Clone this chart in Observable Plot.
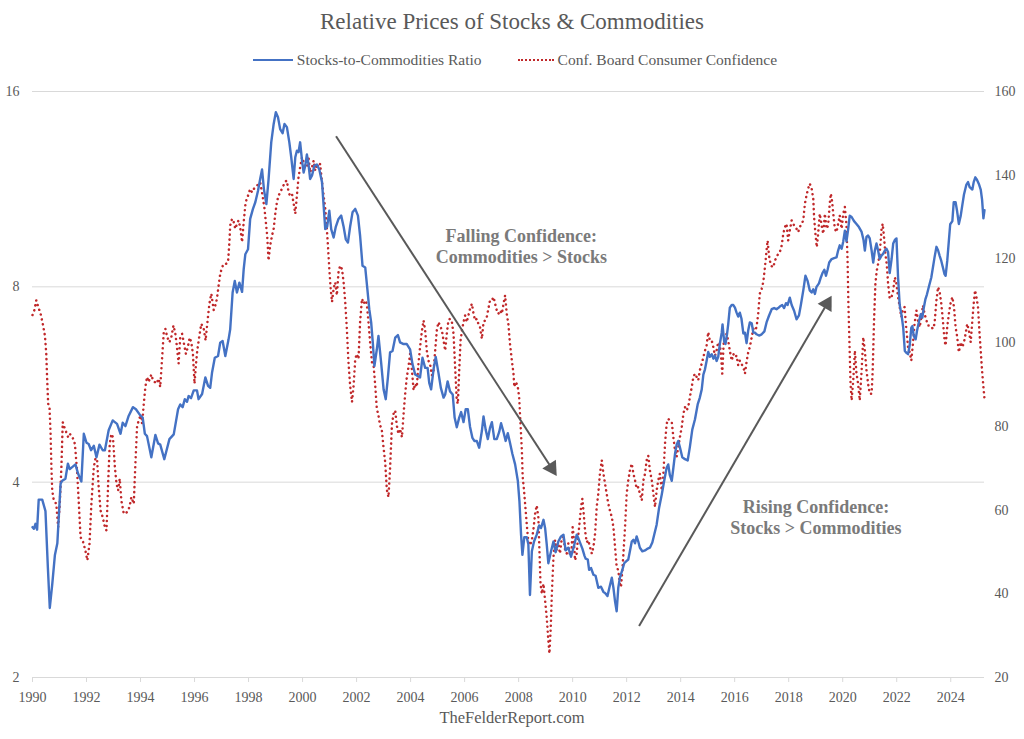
<!DOCTYPE html>
<html>
<head>
<meta charset="utf-8">
<script src="https://cdn.jsdelivr.net/npm/d3@7"></script>
<script src="https://cdn.jsdelivr.net/npm/@observablehq/plot@0.6"></script>
<style>
  html, body { margin: 0; padding: 0; background: #ffffff; }
  body { width: 1024px; font-family: "Liberation Serif", "DejaVu Serif", serif; color: #595959; }
  #title { height: 44px; line-height: 44px; text-align: center; font-size: 23px; }
  #legend { height: 32px; display: flex; justify-content: center; align-items: center; font-size: 15.5px; padding-left: 6px; }
  .item { display: flex; align-items: center; }
  .sw { width: 40px; height: 0; margin-right: 4px; }
  #footer { height: 20px; line-height: 16px; text-align: center; font-size: 16.5px; }
</style>
</head>
<body>
<div id="title">Relative Prices of Stocks &amp; Commodities</div>
<div id="legend">
  <div class="item"><div class="sw" style="border-top:2.5px solid #4472C4"></div><span>Stocks-to-Commodities Ratio</span></div>
  <div class="item" style="margin-left:36px"><div class="sw" style="width:36px;border-top:2.5px dotted #C0282A"></div><span>Conf. Board Consumer Confidence</span></div>
</div>
<div id="chart"></div>
<div id="footer">TheFelderReport.com</div>
<script>
// ---------------- data ----------------
const ratioSeries = [
[1990.00,3.41],[1990.05,3.39],[1990.11,3.45],[1990.17,3.38],[1990.23,3.76],[1990.36,3.76],[1990.48,3.61],[1990.57,2.95],[1990.64,2.56],[1990.73,2.78],[1990.83,3.09],[1990.92,3.22],
[1991.04,3.98],[1991.10,4.02],[1991.22,4.05],[1991.31,4.27],[1991.38,4.19],[1991.47,4.22],[1991.59,4.26],[1991.69,4.12],[1991.81,4.01],[1991.90,4.75],
[1992.00,4.60],[1992.08,4.58],[1992.17,4.48],[1992.27,4.55],[1992.37,4.37],[1992.48,4.57],[1992.60,4.48],[1992.68,4.48],[1992.82,4.81],[1992.97,4.98],
[1993.13,4.92],[1993.26,4.75],[1993.34,4.94],[1993.44,4.88],[1993.56,5.06],[1993.72,5.22],[1993.83,5.18],[1993.99,5.07],
[1994.08,5.03],[1994.16,4.75],[1994.24,4.71],[1994.40,4.37],[1994.55,4.73],[1994.65,4.59],[1994.73,4.57],[1994.88,4.34],
[1995.07,4.66],[1995.23,4.74],[1995.39,5.18],[1995.47,5.27],[1995.56,5.22],[1995.64,5.37],[1995.72,5.32],[1995.78,5.43],[1995.87,5.39],[1995.97,5.54],
[1996.09,5.54],[1996.15,5.37],[1996.28,5.47],[1996.40,5.80],[1996.50,5.63],[1996.58,5.59],[1996.65,5.91],[1996.75,6.22],[1996.87,6.26],[1996.95,6.56],
[1997.04,6.60],[1997.14,6.26],[1997.26,6.64],[1997.32,6.88],[1997.41,7.84],[1997.49,8.17],[1997.57,7.84],[1997.66,8.12],[1997.76,7.86],[1997.82,8.52],[1997.88,8.98],[1997.98,9.14],
[1998.06,10.18],[1998.16,10.54],[1998.25,10.8],[1998.35,11.25],[1998.43,11.73],[1998.50,12.13],[1998.57,11.3],[1998.66,10.73],[1998.74,11.7],[1998.84,13.36],[1998.93,14.26],
[1999.01,14.87],[1999.09,14.6],[1999.17,14.0],[1999.26,13.8],[1999.33,14.26],[1999.42,14.1],[1999.51,13.36],[1999.58,12.67],[1999.67,11.73],[1999.73,12.67],[1999.79,12.97],[1999.85,12.9],[1999.91,13.36],[1999.98,12.52],
[2000.04,12.0],[2000.10,12.3],[2000.16,12.8],[2000.22,12.35],[2000.28,11.73],[2000.35,11.88],[2000.44,12.3],[2000.53,12.35],[2000.62,12.13],[2000.72,11.6],[2000.78,10.67],[2000.84,9.82],[2000.91,9.9],[2000.99,10.48],
[2001.06,9.82],[2001.15,9.53],[2001.23,9.9],[2001.33,10.18],[2001.43,10.3],[2001.52,9.9],[2001.60,9.47],[2001.68,9.36],[2001.76,9.9],[2001.85,10.42],[2001.95,10.55],
[2002.05,10.3],[2002.13,9.59],[2002.22,8.62],[2002.32,8.57],[2002.40,7.93],[2002.47,7.39],[2002.54,7.05],[2002.60,6.57],[2002.66,6.04],[2002.75,6.41],[2002.81,6.72],[2002.91,6.11],
[2003.00,5.56],[2003.08,5.37],[2003.16,5.80],[2003.24,6.34],[2003.33,6.37],[2003.43,6.68],[2003.53,6.74],[2003.61,6.57],[2003.74,6.53],[2003.86,6.53],[2003.98,6.41],
[2004.07,6.08],[2004.17,5.86],[2004.26,5.83],[2004.35,5.80],[2004.44,6.22],[2004.54,6.0],[2004.63,6.0],[2004.69,5.69],[2004.76,5.56],[2004.85,5.97],[2004.93,6.24],
[2005.03,5.9],[2005.12,5.59],[2005.22,5.40],[2005.28,5.46],[2005.37,5.72],[2005.46,5.52],[2005.56,5.46],[2005.63,5.03],[2005.71,4.86],[2005.80,5.03],[2005.87,5.13],[2005.96,4.95],
[2006.04,5.18],[2006.12,5.18],[2006.20,4.87],[2006.29,4.68],[2006.36,4.63],[2006.45,4.63],[2006.54,4.52],[2006.64,4.8],[2006.70,5.05],[2006.78,4.82],[2006.86,4.66],[2006.94,4.85],
[2007.01,4.95],[2007.10,4.66],[2007.19,4.66],[2007.28,4.78],[2007.35,4.93],[2007.44,4.78],[2007.52,4.63],[2007.60,4.76],[2007.68,4.6],[2007.77,4.42],[2007.87,4.26],[2007.97,4.02],
[2008.03,3.74],[2008.09,3.32],[2008.14,3.09],[2008.21,3.29],[2008.30,3.29],[2008.36,3.21],[2008.42,2.68],[2008.49,3.13],[2008.57,3.24],[2008.67,3.32],[2008.76,3.43],[2008.83,3.40],[2008.92,3.50],[2008.98,3.40],
[2009.04,3.21],[2009.10,3.00],[2009.20,3.13],[2009.29,3.24],[2009.37,3.12],[2009.47,3.24],[2009.57,3.30],[2009.66,3.32],[2009.74,3.14],[2009.84,3.17],[2009.94,3.07],
[2010.05,3.19],[2010.15,3.32],[2010.21,3.28],[2010.27,3.23],[2010.36,3.16],[2010.44,3.08],[2010.48,3.05],[2010.56,3.04],[2010.61,2.93],[2010.68,2.95],[2010.77,2.88],[2010.85,2.87],[2010.95,2.75],
[2011.05,2.76],[2011.14,2.71],[2011.20,2.70],[2011.29,2.67],[2011.36,2.75],[2011.45,2.85],[2011.51,2.75],[2011.57,2.62],[2011.63,2.53],[2011.69,2.75],[2011.75,2.85],[2011.84,2.93],[2011.91,3.0],[2011.98,3.02],
[2012.06,3.04],[2012.12,3.13],[2012.19,3.24],[2012.25,3.26],[2012.31,3.22],[2012.37,3.30],[2012.43,3.24],[2012.49,3.17],[2012.58,3.13],[2012.68,3.14],[2012.78,3.16],[2012.86,3.17],[2012.95,3.23],
[2013.02,3.32],[2013.11,3.44],[2013.20,3.65],[2013.30,3.83],[2013.39,4.02],[2013.48,4.21],[2013.54,4.26],[2013.60,4.1],[2013.67,4.02],[2013.73,4.21],[2013.79,4.42],[2013.85,4.57],[2013.91,4.63],[2013.97,4.53],
[2014.06,4.37],[2014.16,4.34],[2014.26,4.32],[2014.34,4.53],[2014.43,4.82],[2014.53,5.0],[2014.63,5.27],[2014.71,5.4],[2014.78,5.56],[2014.84,5.86],[2014.90,5.97],[2014.96,6.15],
[2015.02,6.35],[2015.08,6.24],[2015.15,6.3],[2015.21,6.2],[2015.27,6.27],[2015.33,6.15],[2015.39,6.24],[2015.45,6.53],[2015.52,6.80],[2015.55,7.0],[2015.61,6.59],[2015.66,6.53],[2015.72,6.78],[2015.76,7.0],[2015.82,7.43],[2015.89,7.5],[2015.95,7.5],
[2016.01,7.43],[2016.07,7.3],[2016.13,7.2],[2016.19,7.3],[2016.25,7.15],[2016.32,6.78],[2016.38,6.8],[2016.44,6.55],[2016.50,6.85],[2016.56,7.05],[2016.63,7.03],[2016.69,6.8],[2016.75,6.8],[2016.81,6.76],[2016.90,6.73],
[2017.00,6.76],[2017.10,6.83],[2017.18,7.05],[2017.27,7.22],[2017.37,7.39],[2017.46,7.42],[2017.55,7.39],[2017.61,7.42],[2017.67,7.46],[2017.76,7.5],[2017.83,7.42],[2017.90,7.55],[2017.96,7.5],
[2018.04,7.7],[2018.11,7.5],[2018.20,7.35],[2018.29,7.13],[2018.38,7.23],[2018.45,7.5],[2018.54,7.9],[2018.62,8.32],[2018.70,8.17],[2018.78,7.9],[2018.85,7.84],[2018.91,7.93],[2018.97,7.8],
[2019.03,8.0],[2019.12,8.1],[2019.19,8.27],[2019.25,8.4],[2019.32,8.5],[2019.38,8.32],[2019.44,8.5],[2019.50,8.72],[2019.59,8.83],[2019.68,8.86],[2019.77,8.88],[2019.83,9.1],[2019.89,9.27],[2019.96,9.16],
[2020.02,9.4],[2020.08,9.76],[2020.14,9.4],[2020.20,9.8],[2020.26,10.3],[2020.33,10.25],[2020.42,10.1],[2020.51,10.0],[2020.60,9.89],[2020.70,9.72],[2020.77,9.45],[2020.82,9.1],[2020.88,9.55],[2020.94,9.6],
[2021.00,9.5],[2021.07,9.1],[2021.13,8.72],[2021.19,9.1],[2021.25,9.33],[2021.31,9.1],[2021.37,8.83],[2021.44,8.94],[2021.50,9.0],[2021.56,9.1],[2021.62,9.16],[2021.68,9.05],[2021.74,8.4],[2021.81,8.83],[2021.87,9.33],[2021.93,9.45],[2021.99,9.5],
[2022.05,8.27],[2022.11,7.5],[2022.18,7.23],[2022.24,6.92],[2022.30,6.37],[2022.36,6.33],[2022.42,6.3],[2022.48,6.5],[2022.54,6.92],[2022.58,6.96],[2022.63,6.72],[2022.70,6.64],[2022.75,6.84],[2022.83,7.09],[2022.89,7.26],[2022.95,7.17],
[2023.00,7.42],[2023.06,7.65],[2023.12,7.79],[2023.20,8.03],[2023.28,8.27],[2023.34,8.57],[2023.40,8.88],[2023.47,9.22],[2023.53,9.11],[2023.59,8.93],[2023.65,8.77],[2023.71,8.57],[2023.77,8.37],[2023.81,8.32],[2023.87,8.77],[2023.93,9.42],[2023.98,9.99],
[2024.06,10.1],[2024.11,10.8],[2024.18,10.8],[2024.23,10.5],[2024.30,10.0],[2024.37,10.3],[2024.43,10.7],[2024.49,11.1],[2024.58,11.5],[2024.64,11.6],[2024.70,11.4],[2024.80,11.3],[2024.85,11.6],[2024.91,11.8],[2024.97,11.7],
[2025.05,11.5],[2025.11,11.3],[2025.16,10.9],[2025.21,10.2],[2025.25,10.5]
];

const confSeries = [
[1990.00,106.6],[1990.07,107.8],[1990.14,110.1],[1990.21,108.6],[1990.30,106.9],[1990.38,104.5],[1990.46,101.7],[1990.51,97.3],[1990.54,91.8],[1990.58,85.4],[1990.63,84.6],[1990.67,78.2],[1990.70,70.3],[1990.73,64.7],[1990.79,62.3],[1990.88,61.5],[1990.95,55.9],
[1991.01,61.5],[1991.07,70.3],[1991.12,81.0],[1991.18,79.8],[1991.25,78.6],[1991.32,77.4],[1991.38,78.2],[1991.47,77.6],[1991.57,75.8],[1991.65,69.5],[1991.71,62.3],[1991.78,53.5],[1991.86,52.7],[1991.96,50.3],
[1992.03,48.0],[1992.11,51.9],[1992.18,61.5],[1992.27,70.3],[1992.33,72.3],[1992.39,72.3],[1992.45,65.5],[1992.52,59.9],[1992.60,58.3],[1992.68,55.9],[1992.74,55.1],[1992.80,66.3],[1992.86,75.8],[1992.92,78.2],[1992.98,77.4],
[1993.05,70.3],[1993.11,66.3],[1993.17,64.7],[1993.23,67.5],[1993.29,62.3],[1993.38,59.1],[1993.50,59.5],[1993.59,60.7],[1993.66,63.1],[1993.75,61.5],[1993.81,71.1],[1993.87,79.8],[1993.93,81.4],
[1994.00,82.6],[1994.06,80.6],[1994.12,85.4],[1994.18,89.4],[1994.24,91.8],[1994.30,90.6],[1994.40,92.4],[1994.46,91.0],[1994.59,90.2],[1994.67,91.4],[1994.73,89.4],[1994.80,96.5],[1994.86,102.5],[1994.92,103.3],[1994.99,101.3],
[1995.07,100.1],[1995.14,101.3],[1995.22,104.1],[1995.29,102.1],[1995.35,98.9],[1995.41,95.0],[1995.47,101.3],[1995.54,102.1],[1995.61,99.7],[1995.68,97.3],[1995.75,98.9],[1995.82,101.2],[1995.88,100.1],[1995.94,97.3],
[1996.00,90.2],[1996.05,94.6],[1996.10,98.1],[1996.18,101.7],[1996.25,104.5],[1996.34,103.3],[1996.41,100.5],[1996.47,104.5],[1996.55,109.3],[1996.62,111.7],[1996.71,107.8],[1996.77,108.9],[1996.83,110.5],[1996.89,113.6],[1996.95,116.4],
[1997.02,118.0],[1997.08,118.8],[1997.16,118.8],[1997.24,119.2],[1997.29,124.0],[1997.32,128.0],[1997.39,129.6],[1997.45,128.8],[1997.51,127.2],[1997.57,128.4],[1997.63,129.2],[1997.69,127.6],[1997.76,124.0],[1997.82,128.8],[1997.88,132.8],[1997.94,134.7],[1997.98,135.1],
[1998.06,136.7],[1998.13,135.9],[1998.19,136.7],[1998.25,137.1],[1998.37,137.9],[1998.43,138.3],[1998.52,135.1],[1998.59,132.0],[1998.64,128.8],[1998.69,125.6],[1998.74,119.6],[1998.80,123.2],[1998.87,125.6],[1998.93,127.2],[1998.99,130.8],
[1999.05,133.6],[1999.11,135.1],[1999.17,135.9],[1999.26,137.1],[1999.36,138.5],[1999.42,138.7],[1999.48,135.9],[1999.54,135.1],[1999.61,135.5],[1999.67,133.2],[1999.73,130.8],[1999.79,135.1],[1999.85,139.5],[1999.91,141.9],[1999.98,144.3],
[2000.04,143.1],[2000.10,141.9],[2000.16,141.9],[2000.22,144.3],[2000.28,140.7],[2000.35,141.9],[2000.41,143.5],[2000.47,141.1],[2000.53,142.7],[2000.59,141.9],[2000.65,142.7],[2000.72,138.3],[2000.78,135.1],[2000.84,132.0],[2000.89,128.0],[2000.94,123.2],[2000.99,117.6],
[2001.04,112.9],[2001.09,109.7],[2001.15,112.9],[2001.21,114.4],[2001.27,111.3],[2001.33,116.8],[2001.39,118.4],[2001.46,117.6],[2001.52,114.4],[2001.58,109.7],[2001.64,103.3],[2001.70,95.3],[2001.76,89.8],[2001.83,85.8],[2001.89,89.8],[2001.95,96.1],
[2002.01,97.3],[2002.07,96.1],[2002.13,104.9],[2002.20,110.5],[2002.26,109.3],[2002.32,110.1],[2002.38,109.3],[2002.44,104.9],[2002.50,100.1],[2002.57,95.3],[2002.63,94.5],[2002.69,89.8],[2002.75,84.2],[2002.81,82.6],[2002.87,80.2],[2002.93,79.4],[2002.99,75.4],
[2003.06,71.4],[2003.12,64.9],[2003.18,63.1],[2003.24,70.0],[2003.31,80.6],[2003.37,83.0],[2003.43,83.8],[2003.49,80.2],[2003.55,78.2],[2003.61,79.4],[2003.68,77.4],[2003.74,83.0],[2003.80,87.8],[2003.86,91.8],[2003.92,94.1],[2003.98,97.3],
[2004.05,93.4],[2004.11,88.6],[2004.17,90.2],[2004.23,89.4],[2004.29,94.9],[2004.35,98.9],[2004.42,102.9],[2004.48,105.3],[2004.54,102.9],[2004.60,98.1],[2004.66,95.7],[2004.72,94.9],[2004.79,92.2],[2004.85,93.4],[2004.91,98.1],[2004.97,102.9],
[2005.03,104.9],[2005.09,104.1],[2005.16,102.9],[2005.22,100.5],[2005.28,98.1],[2005.34,102.1],[2005.40,105.3],[2005.46,105.7],[2005.53,104.9],[2005.59,102.1],[2005.65,94.1],[2005.71,86.2],[2005.75,85.4],[2005.80,93.4],[2005.85,100.5],[2005.90,102.9],[2005.96,104.9],
[2006.02,106.5],[2006.08,104.9],[2006.14,106.5],[2006.20,108.1],[2006.27,109.3],[2006.33,106.9],[2006.39,105.3],[2006.45,105.7],[2006.51,104.5],[2006.57,103.7],[2006.64,100.9],[2006.70,104.9],[2006.76,105.3],[2006.82,106.1],[2006.88,108.1],[2006.94,110.1],
[2007.01,110.1],[2007.07,110.9],[2007.13,109.3],[2007.19,107.7],[2007.25,106.9],[2007.31,107.7],[2007.38,106.9],[2007.44,109.3],[2007.50,111.3],[2007.56,106.9],[2007.62,104.5],[2007.68,99.7],[2007.75,95.7],[2007.81,92.6],[2007.84,89.4],[2007.89,90.6],[2007.96,89.8],
[2008.02,87.0],[2008.07,80.6],[2008.12,74.3],[2008.15,67.9],[2008.20,64.7],[2008.24,61.5],[2008.30,56.7],[2008.36,52.4],[2008.42,51.6],[2008.49,52.8],[2008.55,55.5],[2008.61,59.1],[2008.67,61.1],[2008.73,58.3],[2008.77,50.4],[2008.81,42.4],[2008.86,40.0],[2008.92,42.4],[2008.98,38.4],
[2009.04,34.4],[2009.10,28.9],[2009.14,25.7],[2009.19,32.0],[2009.23,40.0],[2009.29,48.8],[2009.35,52.8],[2009.41,50.4],[2009.47,52.0],[2009.53,49.6],[2009.59,52.8],[2009.66,53.9],[2009.72,50.4],[2009.78,49.6],[2009.84,52.0],[2009.90,49.2],[2009.96,50.4],
[2010.00,55.9],[2010.03,54.3],[2010.09,48.0],[2010.15,49.6],[2010.19,52.8],[2010.24,55.9],[2010.31,60.7],[2010.36,62.7],[2010.41,59.1],[2010.46,55.1],[2010.52,52.3],[2010.58,52.8],[2010.64,51.2],[2010.71,49.6],[2010.77,51.2],[2010.83,54.3],[2010.89,60.7],[2010.95,63.9],
[2011.01,68.7],[2011.08,71.9],[2011.14,68.7],[2011.20,66.3],[2011.26,63.9],[2011.32,61.5],[2011.38,59.9],[2011.45,58.3],[2011.51,55.9],[2011.57,51.2],[2011.63,46.4],[2011.69,45.6],[2011.75,42.4],[2011.79,41.6],[2011.84,45.6],[2011.88,49.6],[2011.94,55.9],
[2012.00,63.9],[2012.06,67.1],[2012.12,69.5],[2012.19,71.1],[2012.25,68.7],[2012.31,67.1],[2012.37,65.1],[2012.43,65.5],[2012.49,63.9],[2012.56,62.3],[2012.62,67.1],[2012.68,68.7],[2012.74,71.9],[2012.80,73.0],[2012.86,69.5],[2012.93,67.1],[2012.99,63.9],
[2013.05,60.7],[2013.11,64.7],[2013.17,67.1],[2013.23,68.7],[2013.30,64.7],[2013.36,68.7],[2013.42,75.8],[2013.48,80.6],[2013.54,81.8],[2013.60,81.4],[2013.67,81.0],[2013.73,77.4],[2013.79,74.2],[2013.85,72.7],[2013.91,75.0],[2013.97,77.4],
[2014.04,79.8],[2014.10,83.0],[2014.16,84.6],[2014.22,83.8],[2014.28,84.6],[2014.34,87.0],[2014.41,89.4],[2014.47,91.8],[2014.53,92.6],[2014.59,91.8],[2014.65,91.0],[2014.71,93.4],[2014.78,95.0],[2014.84,96.5],[2014.90,98.1],[2014.96,99.3],
[2015.02,102.5],[2015.08,100.5],[2015.15,100.5],[2015.21,98.9],[2015.27,96.9],[2015.33,98.1],[2015.39,100.1],[2015.45,99.7],[2015.49,97.3],[2015.54,92.6],[2015.59,99.7],[2015.64,101.3],[2015.70,102.1],[2015.76,100.5],[2015.82,98.1],[2015.89,95.7],[2015.95,97.3],
[2016.01,96.5],[2016.07,96.9],[2016.13,94.6],[2016.19,95.7],[2016.25,94.9],[2016.32,94.2],[2016.38,92.6],[2016.44,95.4],[2016.50,97.7],[2016.56,98.9],[2016.63,101.3],[2016.69,103.3],[2016.75,102.9],[2016.81,103.7],[2016.87,106.9],[2016.93,111.7],
[2017.00,112.9],[2017.06,114.5],[2017.12,118.0],[2017.18,122.0],[2017.22,124.4],[2017.27,120.8],[2017.34,118.4],[2017.43,118.0],[2017.49,119.6],[2017.55,120.4],[2017.61,121.2],[2017.67,121.6],[2017.74,123.2],[2017.80,126.0],[2017.86,127.6],[2017.92,128.4],[2017.98,124.4],
[2018.04,126.8],[2018.11,129.2],[2018.17,128.4],[2018.23,127.6],[2018.29,127.2],[2018.35,126.4],[2018.41,127.6],[2018.48,128.4],[2018.54,129.2],[2018.60,133.2],[2018.66,135.2],[2018.72,136.8],[2018.78,138.0],[2018.85,136.8],[2018.91,134.4],[2018.94,130.0],[2018.99,126.0],
[2019.04,122.8],[2019.09,126.0],[2019.15,130.8],[2019.22,128.0],[2019.28,126.0],[2019.34,130.8],[2019.40,127.2],[2019.46,128.0],[2019.52,133.2],[2019.56,135.6],[2019.61,133.6],[2019.65,130.8],[2019.71,127.2],[2019.77,126.4],[2019.83,128.4],[2019.89,130.4],[2019.96,127.2],
[2020.02,130.8],[2020.08,132.4],[2020.14,128.0],[2020.18,119.6],[2020.21,109.3],[2020.25,99.7],[2020.29,90.2],[2020.33,86.2],[2020.39,91.0],[2020.45,98.1],[2020.51,92.6],[2020.57,90.2],[2020.63,86.2],[2020.70,93.4],[2020.76,101.3],[2020.82,98.1],[2020.88,93.4],[2020.94,90.2],
[2021.00,87.8],[2021.07,87.8],[2021.11,93.4],[2021.16,105.3],[2021.21,114.1],[2021.26,117.2],[2021.31,118.8],[2021.37,121.2],[2021.44,127.2],[2021.48,128.4],[2021.53,125.2],[2021.58,121.2],[2021.63,118.8],[2021.68,114.1],[2021.74,110.5],[2021.81,110.9],[2021.87,112.5],[2021.93,115.6],[2021.99,114.1],
[2022.05,110.9],[2022.11,108.5],[2022.17,106.1],[2022.23,108.1],[2022.29,108.5],[2022.36,102.9],[2022.42,98.9],[2022.48,97.7],[2022.54,95.7],[2022.60,99.7],[2022.66,104.5],[2022.73,107.7],[2022.79,105.3],[2022.85,103.7],[2022.91,106.1],[2022.97,108.9],
[2023.03,106.9],[2023.10,105.3],[2023.16,104.1],[2023.24,104.1],[2023.34,103.3],[2023.40,104.5],[2023.47,110.1],[2023.53,113.3],[2023.59,112.1],[2023.65,109.3],[2023.71,105.3],[2023.77,100.5],[2023.81,99.3],[2023.87,103.7],[2023.93,106.9],[2023.99,109.3],
[2024.06,110.9],[2024.12,108.5],[2024.18,103.7],[2024.24,101.3],[2024.30,97.7],[2024.37,100.1],[2024.43,98.9],[2024.49,100.1],[2024.55,102.1],[2024.61,104.5],[2024.67,102.9],[2024.74,100.1],[2024.80,105.3],[2024.85,109.3],[2024.90,112.5],[2024.95,110.9],
[2025.01,108.5],[2025.06,102.9],[2025.11,98.1],[2025.16,93.3],[2025.21,89.4],[2025.25,86.6]
];

const yearTicks = [1990,1992,1994,1996,1998,2000,2002,2004,2006,2008,2010,2012,2014,2016,2018,2020,2022,2024];
const ratioTicks = [2,4,8,16];
const confTicks = [20,40,60,80,100,120,140,160];
const xDomain = [1990, 2025.25];

// annotations (data coordinates: year, ratio)
const arrows = [
  {x1: 2001.24, y1: 13.65, x2: 2009.41, y2: 4.09},
  {x1: 2012.46, y1: 2.40, x2: 2019.59, y2: 7.75}
];
const notes = [
  {x: 2008.10, y: 9.25, text: "Falling Confidence:\nCommodities > Stocks"},
  {x: 2019.01, y: 3.54, text: "Rising Confidence:\nStocks > Commodities"}
];

// ---------------- chart ----------------
const W = 1024, H = 634, ML = 32, MR = 40, MT = 15, MB = 33;
// map confidence (20..160, linear on right axis) onto the log ratio axis (2..16)
const confToY = c => 2 ** (1 + 3 * (c - 20) / 140);
const yToConf = y => Math.round(20 + (Math.log2(y) - 1) * 140 / 3);

const kx = (W - ML - MR) / (xDomain[1] - xDomain[0]);
const ky = (H - MT - MB) / 3;
const shafts = [], heads = [];
for (const a of arrows) {
  const l1 = Math.log2(a.y1), l2 = Math.log2(a.y2);
  const dx = (a.x2 - a.x1) * kx, dy = -(l2 - l1) * ky;
  const len = Math.hypot(dx, dy);
  const ang = Math.atan2(dy, dx) * 180 / Math.PI;
  const at = t => ({x: a.x1 + t * (a.x2 - a.x1), y: 2 ** (l1 + t * (l2 - l1))});
  const e = at(1 - 10 / len), h = at(1 - 9.3 / len);
  shafts.push({x1: a.x1, y1: a.y1, x2: e.x, y2: e.y});
  heads.push({x: h.x, y: h.y, rotate: 90 + ang});
}

const chart = Plot.plot({
  width: W, height: H,
  marginLeft: ML, marginRight: MR, marginTop: MT, marginBottom: MB,
  style: {fontFamily: "'Liberation Serif', serif", fontSize: "14px", color: "#595959", background: "#ffffff", overflow: "visible"},
  x: {domain: xDomain, label: null},
  y: {type: "log", domain: [2, 16], label: null},
  marks: [
    Plot.gridY(ratioTicks, {stroke: "#d9d9d9", strokeOpacity: 1, strokeWidth: 1}),
    Plot.axisX(yearTicks, {tickSize: 5, tickPadding: 10, tickFormat: d => String(d), stroke: "#d9d9d9", fill: "#595959", label: null}),
    Plot.axisY(ratioTicks, {anchor: "left", tickSize: 0, tickPadding: 13, tickFormat: d => String(d), fill: "#595959", label: null}),
    Plot.axisY(confTicks.map(confToY), {anchor: "right", tickSize: 0, tickPadding: 10, tickFormat: d => String(yToConf(d)), fill: "#595959", label: null}),
    Plot.line(confSeries, {x: d => d[0], y: d => confToY(d[1]), stroke: "#C0282A", strokeWidth: 2.5, strokeLinecap: "round", strokeDasharray: "0.1 4.9"}),
    Plot.line(ratioSeries, {x: d => d[0], y: d => d[1], stroke: "#4472C4", strokeWidth: 2.4}),
    Plot.link(shafts, {x1: "x1", y1: "y1", x2: "x2", y2: "y2", stroke: "#595959", strokeWidth: 2}),
    Plot.dot(heads, {x: "x", y: "y", rotate: "rotate", symbol: "triangle", r: 6, fill: "#595959", stroke: "none"}),
    Plot.text(notes, {x: "x", y: "y", text: "text", fontSize: 18, fontWeight: "bold", fill: "#7a7a7a", lineHeight: 1.17, fontFamily: "'Liberation Serif', serif"})
  ]
});
document.getElementById("chart").appendChild(chart);
</script>
</body>
</html>
